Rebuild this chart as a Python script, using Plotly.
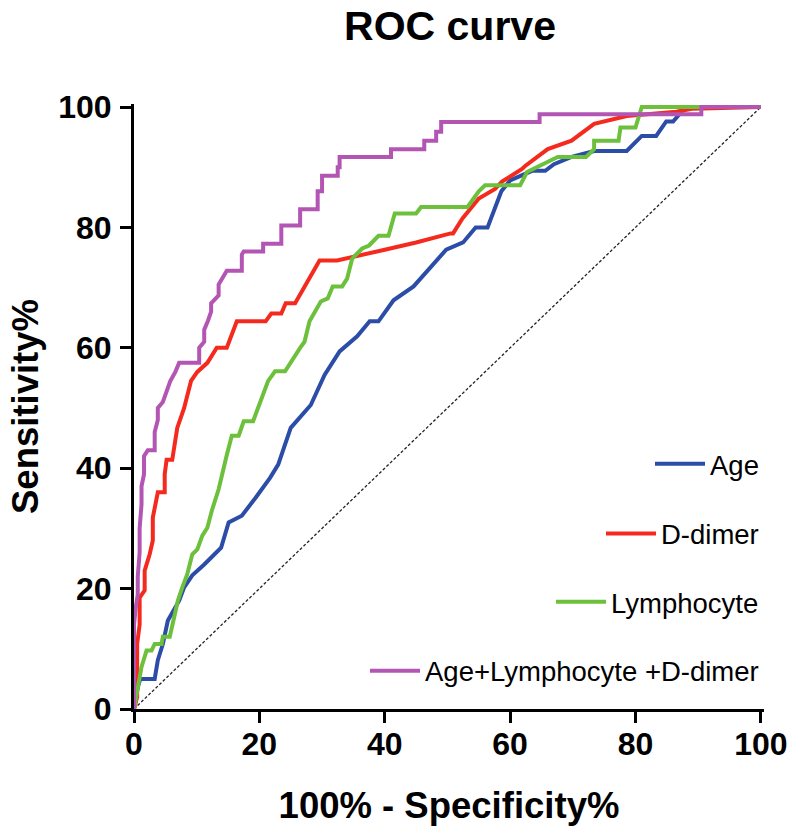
import plotly.graph_objects as go

# ---- data ----
age_x = [0, 0.6, 1, 3.3, 3.8, 4.6, 5.4, 6.1, 7.2, 8, 9.3, 11.2, 13.2, 13.9, 15.1, 17.2, 19.4, 20.6,
         21.7, 23, 25, 28.2, 30.4, 32.8, 35.6, 37.6, 39, 41.4, 44.6, 49.8, 52.5, 54.5, 56.4, 58.6,
         60, 63.5, 65.6, 67, 69.8, 73.4, 78.6, 81, 83.3, 84.9, 86, 88, 100]
age_y = [0, 3.6, 5, 5, 8.1, 10.8, 14.7, 16, 18, 20.2, 22.2, 24, 26, 26.8, 31, 32.1, 35.1, 36.8,
         38.4, 40.6, 46.7, 50.5, 55.5, 59.4, 61.9, 64.4, 64.4, 67.9, 70.2, 76.3, 77.5, 80, 80, 86,
         87.8, 89.4, 89.4, 90.5, 91.7, 92.7, 92.7, 95.2, 95.2, 97.6, 97.6, 100, 100]

ddimer_x = [0, 0.5, 0.5, 0.9, 0.9, 1.7, 1.7, 2.5, 3, 3, 3.8, 4.9, 4.9, 5.2, 6.1, 6.9, 8, 9.1, 10.1,
            11.7, 13.2, 14.8, 16.4, 21, 21.9, 23.5, 24.2, 25.7, 29.6, 32.4, 40, 45, 50.5, 50.9,
            52.4, 55, 57.6, 58.7, 61.9, 62.4, 66, 69.8, 73.4, 77.6, 78.6, 86.5, 89, 100]
ddimer_y = [0, 2, 10.8, 14, 18.5, 19.7, 23, 25.7, 28, 31.8, 36, 36, 39, 41.4, 41.4, 46.7, 50, 54.5, 56,
            57.5, 60, 60, 64.4, 64.4, 65.7, 65.7, 67.4, 67.4, 74.5, 74.5, 76.3, 77.5, 79, 79,
            81.5, 84.8, 86.4, 87.6, 89.7, 90.2, 93, 94.4, 97.2, 98.3, 98.5, 99.2, 99.7, 100]

lymph_x = [0, 0.9, 1.2, 2, 2.8, 3.3, 4.4, 4.6, 5.7, 6.4, 7, 7.7, 8.5, 9.3, 10.1, 10.9, 11.7, 12.4,
           13.5, 14.8, 15.6, 16.7, 17.5, 19, 20.3, 21.4, 22.5, 24.1, 26.5, 27.2, 28, 29.8, 30.9,
           31.7, 33.2, 34, 34.8, 36.4, 37.5, 39, 40.6, 41.6, 45, 45.8, 53.2, 55, 56, 61.6, 62.7,
           67.6, 72.1, 73.4, 73.4, 77.3, 77.6, 80, 81, 100]
lymph_y = [0, 5.3, 7, 9.7, 9.7, 10.8, 10.8, 12, 12, 15.2, 18, 20.2, 22.4, 25.7, 26.5, 28.8, 30.1, 32.9,
           36.5, 42.2, 45.4, 45.4, 47.8, 47.8, 51.5, 54.5, 56.1, 56.1, 60, 61, 64.4, 67.7, 68.2,
           70.2, 70.2, 71.5, 74.8, 76.5, 77, 78.6, 78.6, 82.3, 82.3, 83.4, 83.4, 86, 87, 87, 89.2,
           91.7, 91.7, 93, 94.4, 94.4, 96.6, 96.6, 100, 100]

combo_x = [0, 0, 0.3, 0.6, 0.6, 0.9, 0.9, 1.2, 1.2, 1.6, 1.6, 2.2, 3.3, 3.3, 3.8, 3.8, 4.6, 5.2, 5.8,
           6.6, 7.2, 10.4, 10.4, 11.2, 11.2, 11.8, 12.3, 12.3, 13.5, 13.5, 14.8, 17.2, 17.2, 17.5,
           20.6, 20.6, 23.5, 23.5, 26.5, 26.5, 29.3, 29.3, 30, 30, 32.5, 32.5, 32.8, 32.8, 41, 41,
           46.3, 46.3, 48.2, 48.2, 49, 49, 64.7, 64.7, 90.5, 90.5, 100]
combo_y = [0, 14, 17, 19, 22, 26, 30, 34, 37, 39, 42, 43, 43, 46, 48, 50, 51, 53, 54.5,
           56, 57.5, 57.5, 60, 61, 63, 64.5, 66, 67.4, 68.7, 70.5, 72.8, 72.8, 75.5, 76,
           76, 77.3, 77.3, 80.3, 80.3, 83, 83, 86, 86, 88.6, 88.6, 90, 90, 91.7, 91.7, 93,
           93, 94.4, 94.4, 95.9, 95.9, 97.5, 97.5, 98.8, 98.8, 100, 100]

ref_x = [0, 100]
ref_y = [0, 100]

series_names = ["Age", "D-dimer", "Lymphocyte", "Age+Lymphocyte +D-dimer"]
series_colors = ["#2B4DA8", "#F52A1E", "#6CC03C", "#B356B3"]
x_ticks = [0, 20, 40, 60, 80, 100]
y_ticks = [0, 20, 40, 60, 80, 100]

FONT = "Liberation Sans, Arial, Helvetica, sans-serif"

fig = go.Figure()
fig.add_trace(go.Scatter(x=ref_x, y=ref_y, mode="lines", showlegend=False,
                         line=dict(color="#222222", width=1.3, dash="3px,2px"), hoverinfo="skip"))

data = [(age_x, age_y), (ddimer_x, ddimer_y), (lymph_x, lymph_y), (combo_x, combo_y)]
legend_ids = ["legend", "legend2", "legend3", "legend4"]
for (xs, ys), name, col, lg in zip(data, series_names, series_colors, legend_ids):
    fig.add_trace(go.Scatter(x=xs, y=ys, mode="lines", name=name, legend=lg,
                             line=dict(color=col, width=4)))

legend_ys = [0.405, 0.290, 0.177, 0.063]
common_leg = dict(x=1.0, xanchor="right", yanchor="middle", bgcolor="rgba(0,0,0,0)",
                  font=dict(family=FONT, size=27.5, color="black"), itemwidth=50)

fig.update_layout(
    width=800, height=832,
    margin=dict(l=134, r=28, t=104, b=120),
    paper_bgcolor="white", plot_bgcolor="white",
    title=dict(text="ROC curve", x=0.5625, xanchor="center", yref="container", y=0.986,
               yanchor="top",
               font=dict(family=FONT, size=41, color="black", weight="bold")),
    font=dict(family=FONT, color="black"),
    legend=dict(y=legend_ys[0], **common_leg),
    legend2=dict(y=legend_ys[1], **common_leg),
    legend3=dict(y=legend_ys[2], **common_leg),
    legend4=dict(y=legend_ys[3], **common_leg),
)

axis_common = dict(showline=True, linecolor="black", linewidth=3, ticks="outside", ticklen=11,
                   tickwidth=3, tickcolor="black", showgrid=False, zeroline=False,
                   tickfont=dict(family=FONT, size=32, color="black", weight="bold"),
                   layer="below traces")
fig.update_xaxes(range=[0, 100.5], tickvals=x_ticks, ticktext=[str(v) for v in x_ticks],
                 ticklabelstandoff=-6,
                 title=dict(text="100% - Specificity%", standoff=32,
                            font=dict(family=FONT, size=36.5, color="black", weight="bold")),
                 **axis_common)
fig.update_yaxes(range=[0, 100.5], tickvals=y_ticks, ticktext=[str(v) for v in y_ticks],
                 ticklabelstandoff=2,
                 title=dict(text="Sensitivity%", standoff=9,
                            font=dict(family=FONT, size=36.5, color="black", weight="bold")),
                 **axis_common)

fig.write_html("out.html", config={"displayModeBar": False},
               post_script="document.body.style.margin='0';")
